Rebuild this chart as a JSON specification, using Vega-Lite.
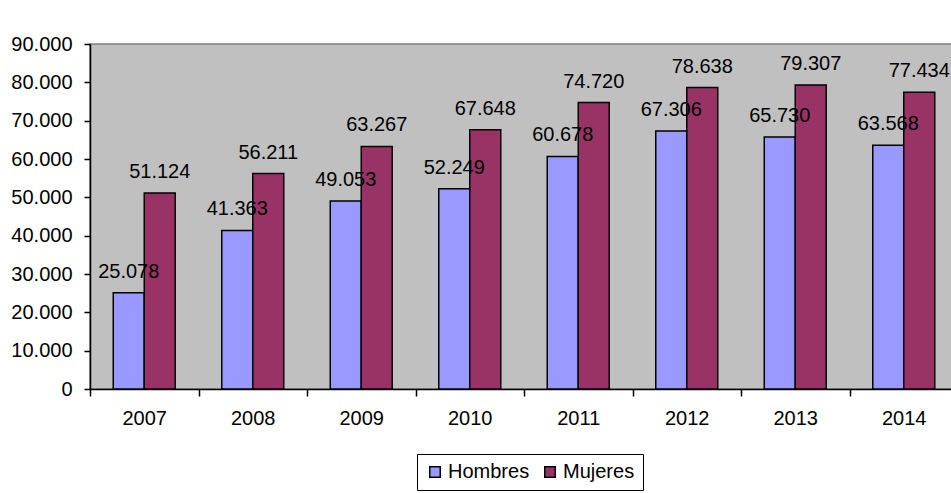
{
  "$schema": "https://vega.github.io/schema/vega-lite/v6.json",
  "autosize": "none",
  "padding": {"left": 90, "top": 44, "right": 0, "bottom": 104},
  "width": 868,
  "height": 345,
  "background": "white",
  "config": {
    "font": "Liberation Sans",
    "locale": {"number": {"decimal": ",", "thousands": ".", "grouping": [3], "currency": ["", " €"]}},
    "view": {"fill": "#C0C0C0", "stroke": "#808080", "strokeWidth": 1.5}
  },
  "data": {
    "values": [
      {"year": "2007", "sexo": "Hombres", "valor": 25078},
      {"year": "2007", "sexo": "Mujeres", "valor": 51124},
      {"year": "2008", "sexo": "Hombres", "valor": 41363},
      {"year": "2008", "sexo": "Mujeres", "valor": 56211},
      {"year": "2009", "sexo": "Hombres", "valor": 49053},
      {"year": "2009", "sexo": "Mujeres", "valor": 63267},
      {"year": "2010", "sexo": "Hombres", "valor": 52249},
      {"year": "2010", "sexo": "Mujeres", "valor": 67648},
      {"year": "2011", "sexo": "Hombres", "valor": 60678},
      {"year": "2011", "sexo": "Mujeres", "valor": 74720},
      {"year": "2012", "sexo": "Hombres", "valor": 67306},
      {"year": "2012", "sexo": "Mujeres", "valor": 78638},
      {"year": "2013", "sexo": "Hombres", "valor": 65730},
      {"year": "2013", "sexo": "Mujeres", "valor": 79307},
      {"year": "2014", "sexo": "Hombres", "valor": 63568},
      {"year": "2014", "sexo": "Mujeres", "valor": 77434}
    ]
  },
  "encoding": {
    "x": {
      "field": "year", "type": "nominal",
      "scale": {"paddingInner": 0, "paddingOuter": 0},
      "axis": {
        "title": null, "labelAngle": 0, "tickBand": "extent",
        "domainColor": "black", "domainWidth": 1.5, "tickColor": "black", "tickWidth": 1.5, "tickSize": 7,
        "labelFont": "Liberation Sans", "labelFontSize": 20, "labelColor": "black", "labelPadding": 12
      }
    },
    "xOffset": {"field": "sexo", "type": "nominal", "scale": {"paddingInner": 0, "paddingOuter": 0.75}},
    "y": {
      "field": "valor", "type": "quantitative",
      "scale": {"domain": [0, 90000], "nice": false},
      "axis": {
        "title": null, "values": [0, 10000, 20000, 30000, 40000, 50000, 60000, 70000, 80000, 90000],
        "format": ",.0f",
        "grid": false, "domainColor": "black", "domainWidth": 1.5, "tickColor": "black", "tickWidth": 1.5, "tickSize": 6,
        "labelFont": "Liberation Sans", "labelFontSize": 20, "labelColor": "black", "labelPadding": 12
      }
    }
  },
  "layer": [
    {
      "mark": {"type": "bar", "stroke": "black", "strokeWidth": 1.5},
      "encoding": {
        "color": {
          "field": "sexo", "type": "nominal",
          "scale": {"domain": ["Hombres", "Mujeres"], "range": ["#9999FF", "#993366"]},
          "legend": {
            "title": null, "orient": "none", "direction": "horizontal",
            "legendX": 327, "legendY": 410,
            "symbolType": "square", "symbolSize": 110, "symbolStrokeColor": "black", "symbolStrokeWidth": 1.5, "symbolOpacity": 1,
            "labelFont": "Liberation Sans", "labelFontSize": 20, "labelColor": "black",
            "columnPadding": 10, "labelOffset": 3,
            "strokeColor": "black", "padding": 8, "fillColor": "white"
          }
        }
      }
    },
    {
      "mark": {"type": "text", "baseline": "alphabetic", "dy": -15, "fontSize": 20, "font": "Liberation Sans", "color": "black"},
      "encoding": {
        "text": {"field": "valor", "type": "quantitative", "format": ",.0f"}
      }
    }
  ]
}
